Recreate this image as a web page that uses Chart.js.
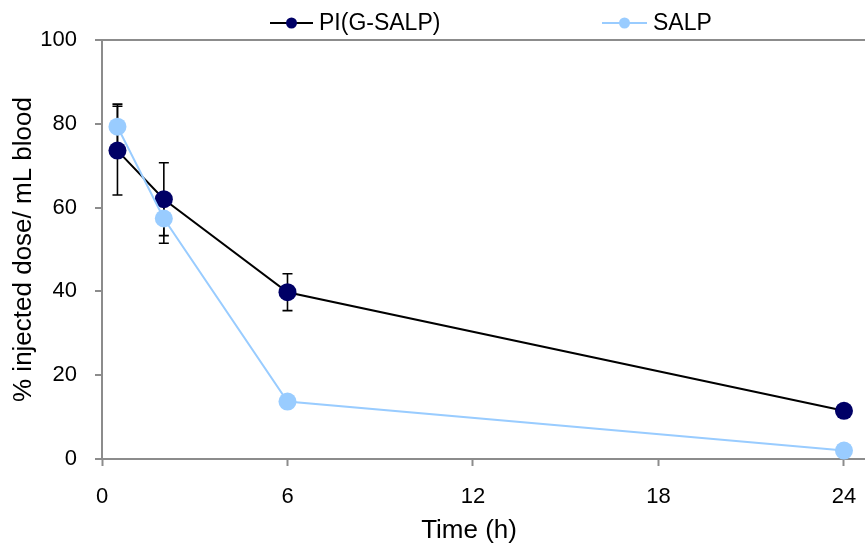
<!DOCTYPE html>
<html>
<head>
<meta charset="utf-8">
<script src="https://cdn.jsdelivr.net/npm/chart.js@4.4.0/dist/chart.umd.min.js"></script>
<style>
  html, body { margin: 0; padding: 0; background: #fff; }
  #wrap { width: 865px; height: 549px; }
</style>
</head>
<body>
<div id="wrap"><canvas id="bloodChart" width="865" height="549"></canvas></div>
<script>
// sampling times (h) and blood levels (% injected dose / mL blood)
const timePoints = [0.5, 2, 6, 24];
const piValues = [73.6, 62.0, 39.8, 11.5];
const piErrors = [10.6, 8.7, 4.4, 1.0];
const salpValues = [79.3, 57.4, 13.7, 2.0];
const salpErrors = [5.4, 5.9, 1.0, 0.5];
const xTicks = [0, 6, 12, 18, 24];
const yTicks = [0, 20, 40, 60, 80, 100];
const seriesNames = ['PI(G-SALP)', 'SALP'];

const axisGray = '#8c8c8c';
const fontFamily = '"Liberation Sans", Arial, sans-serif';

function toPoints(values) {
    return timePoints.map((t, i) => ({ x: t, y: values[i] }));
}

// vertical error bars, drawn under the markers
const errorBars = {
    id: 'errorBars',
    beforeDatasetsDraw(chart) {
        const ctx = chart.ctx;
        const yScale = chart.scales.y;
        ctx.save();
        ctx.strokeStyle = '#000';
        ctx.lineWidth = 1.6;
        chart.data.datasets.forEach((ds, di) => {
            const meta = chart.getDatasetMeta(di);
            ds.errors.forEach((err, i) => {
                const pt = meta.data[i];
                const top = yScale.getPixelForValue(ds.data[i].y + err);
                const bot = yScale.getPixelForValue(ds.data[i].y - err);
                ctx.beginPath();
                ctx.moveTo(pt.x, top);
                ctx.lineTo(pt.x, bot);
                ctx.moveTo(pt.x - 5, top);
                ctx.lineTo(pt.x + 5, top);
                ctx.moveTo(pt.x - 5, bot);
                ctx.lineTo(pt.x + 5, bot);
                ctx.stroke();
            });
        });
        ctx.restore();
    }
};

// legend row above the plot: short line with a dot, then the name
const lineLegend = {
    id: 'lineLegend',
    afterDraw(chart) {
        const ctx = chart.ctx;
        const slots = [{ x0: 270, x1: 313, tx: 319 }, { x0: 602, x1: 647, tx: 653 }];
        const y = 23;
        ctx.save();
        chart.data.datasets.forEach((ds, i) => {
            const s = slots[i];
            ctx.strokeStyle = ds.borderColor;
            ctx.lineWidth = 2;
            ctx.beginPath();
            ctx.moveTo(s.x0, y);
            ctx.lineTo(s.x1, y);
            ctx.stroke();
            ctx.fillStyle = ds.pointBackgroundColor;
            ctx.beginPath();
            ctx.arc((s.x0 + s.x1) / 2, y, 5.5, 0, Math.PI * 2);
            ctx.fill();
            ctx.fillStyle = '#000';
            ctx.font = '23px ' + fontFamily;
            ctx.textBaseline = 'middle';
            ctx.textAlign = 'left';
            ctx.fillText(ds.label, s.tx, y + 1);
        });
        ctx.restore();
    }
};

new Chart(document.getElementById('bloodChart'), {
    type: 'line',
    data: {
        datasets: [
            {
                label: seriesNames[0],
                data: toPoints(piValues),
                errors: piErrors,
                borderColor: '#000000',
                borderWidth: 2,
                pointBackgroundColor: '#000066',
                pointBorderColor: '#000066',
                pointRadius: 9,
                pointBorderWidth: 0,
                order: 2,
                clip: false
            },
            {
                label: seriesNames[1],
                data: toPoints(salpValues),
                errors: salpErrors,
                borderColor: '#99ccff',
                borderWidth: 2,
                pointBackgroundColor: '#99ccff',
                pointBorderColor: '#99ccff',
                pointRadius: 9,
                pointBorderWidth: 0,
                order: 1,
                clip: false
            }
        ]
    },
    options: {
        responsive: false,
        animation: false,
        events: [],
        layout: { autoPadding: false, padding: { top: 40, right: 0, bottom: 0, left: 0 } },
        plugins: { legend: { display: false }, tooltip: { enabled: false } },
        scales: {
            x: {
                type: 'linear',
                min: 0,
                max: 24.68,
                afterBuildTicks: (scale) => { scale.ticks = xTicks.map(v => ({ value: v })); },
                afterFit: (scale) => {
                    scale.height = 90;
                    scale.paddingLeft = 0;
                    scale.paddingRight = 0;
                },
                border: { color: axisGray, width: 2 },
                grid: {
                    drawOnChartArea: false,
                    tickLength: 7,
                    tickColor: axisGray,
                    tickWidth: 2
                },
                ticks: {
                    color: '#000',
                    padding: 18,
                    maxRotation: 0,
                    font: { family: fontFamily, size: 22 }
                },
                title: {
                    display: true,
                    // trailing spaces pull the centred title a little left
                    text: 'Time (h)\u00a0\u00a0\u00a0\u00a0',
                    color: '#000',
                    font: { family: fontFamily, size: 26 },
                    padding: { top: 0, bottom: 3 }
                }
            },
            y: {
                min: 0,
                max: 100,
                afterBuildTicks: (scale) => { scale.ticks = yTicks.map(v => ({ value: v })); },
                afterFit: (scale) => { scale.width = 102; },
                border: { color: axisGray, width: 2 },
                grid: {
                    color: (c) => (c.tick && c.tick.value === 100 ? axisGray : 'rgba(0,0,0,0)'),
                    lineWidth: 2,
                    tickLength: 7,
                    tickColor: axisGray,
                    tickWidth: 2
                },
                ticks: {
                    color: '#000',
                    padding: 18,
                    font: { family: fontFamily, size: 22 }
                },
                title: {
                    display: true,
                    text: '% injected dose/ mL blood',
                    color: '#000',
                    font: { family: fontFamily, size: 26 },
                    padding: { top: 8, bottom: 0 }
                }
            }
        }
    },
    plugins: [errorBars, lineLegend]
});
</script>
</body>
</html>
